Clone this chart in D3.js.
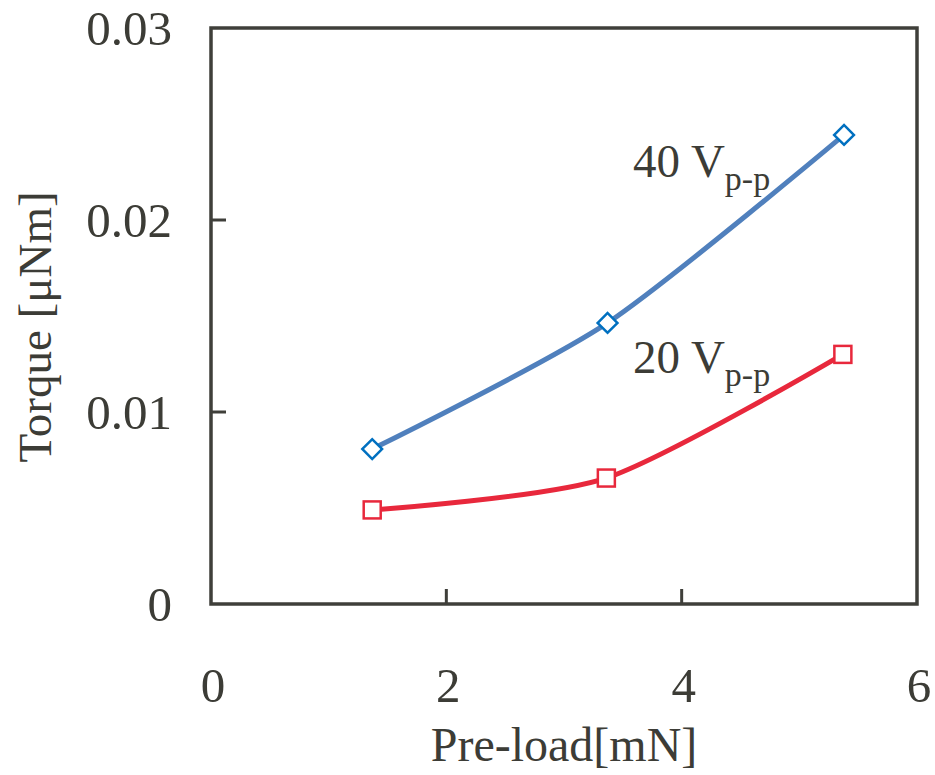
<!DOCTYPE html>
<html>
<head>
<meta charset="utf-8">
<script src="https://cdn.jsdelivr.net/npm/d3@7"></script>
<style>
  body { margin: 0; background: #fff; }
  text { font-family: "Liberation Serif", "Times New Roman", serif; fill: #3c3c36; }
</style>
</head>
<body>
<div id="chart"></div>
<script>
// data
const preload = [1.37, 3.37, 5.38];
const torque40 = [0.00807, 0.01464, 0.02443];
const preload20 = [1.37, 3.36, 5.37];
const torque20 = [0.0049, 0.00656, 0.0130];
const xTicks = [0, 2, 4, 6];
const yTicks = [0, 0.01, 0.02, 0.03];
const yTickLabels = ["0", "0.01", "0.02", "0.03"];

const svgWidth = 935;
const svgHeight = 775;
const margin = { top: 28, right: 18, bottom: 171, left: 211 };
const width = svgWidth - margin.left - margin.right;
const height = svgHeight - margin.top - margin.bottom;

const ink = "#3f3f3a";

const svg = d3.select("#chart")
  .append("svg")
  .attr("width", svgWidth)
  .attr("height", svgHeight);

const chartGroup = svg.append("g")
  .attr("transform", `translate(${margin.left}, ${margin.top})`);

const x = d3.scaleLinear().domain([0, 6]).range([0, width]);
const y = d3.scaleLinear().domain([0, 0.03]).range([height, 0]);

// inward ticks
chartGroup.selectAll(".xtick")
  .data(xTicks.slice(1, -1))
  .enter()
  .append("line")
  .attr("x1", d => x(d)).attr("x2", d => x(d))
  .attr("y1", height).attr("y2", height - 15)
  .attr("stroke", ink).attr("stroke-width", 3);

chartGroup.selectAll(".ytick")
  .data(yTicks.slice(1, -1))
  .enter()
  .append("line")
  .attr("x1", 0).attr("x2", 15)
  .attr("y1", d => y(d)).attr("y2", d => y(d))
  .attr("stroke", ink).attr("stroke-width", 3);

// frame
chartGroup.append("rect")
  .attr("x", 0).attr("y", 0)
  .attr("width", width).attr("height", height)
  .attr("fill", "none")
  .attr("stroke", ink)
  .attr("stroke-width", 3.5);

// tick labels
chartGroup.selectAll(".xlabel")
  .data(xTicks)
  .enter()
  .append("text")
  .attr("x", d => x(d) + 2)
  .attr("y", height + 98)
  .attr("text-anchor", "middle")
  .style("font-size", "49px")
  .text(d => d);

chartGroup.selectAll(".ylabel")
  .data(yTicks)
  .enter()
  .append("text")
  .attr("x", -39)
  .attr("y", d => y(d) + 17)
  .attr("text-anchor", "end")
  .style("font-size", "49px")
  .text((d, i) => yTickLabels[i]);

// axis titles
chartGroup.append("text")
  .attr("x", width / 2)
  .attr("y", height + 157)
  .attr("text-anchor", "middle")
  .style("font-size", "48px")
  .text("Pre-load[mN]");

chartGroup.append("text")
  .attr("transform", `translate(${-160}, ${327 - margin.top}) rotate(-90)`)
  .attr("text-anchor", "middle")
  .style("font-size", "47px")
  .text("Torque [μNm]");

// lines
const line = d3.line()
  .x(d => x(d[0]))
  .y(d => y(d[1]))
  .curve(d3.curveCardinal.tension(0.25));

const s40 = preload.map((p, i) => [p, torque40[i]]);
const s20 = preload20.map((p, i) => [p, torque20[i]]);

chartGroup.append("path")
  .datum(s40)
  .attr("d", line)
  .attr("fill", "none")
  .attr("stroke", "#5080bd")
  .attr("stroke-width", 5);

chartGroup.append("path")
  .datum(s20)
  .attr("d", line)
  .attr("fill", "none")
  .attr("stroke", "#e8283c")
  .attr("stroke-width", 5);

// markers
chartGroup.selectAll(".diamond")
  .data(s40)
  .enter()
  .append("rect")
  .attr("x", -7).attr("y", -7)
  .attr("width", 14).attr("height", 14)
  .attr("transform", d => `translate(${x(d[0])}, ${y(d[1])}) rotate(45)`)
  .attr("fill", "#fff")
  .attr("stroke", "#0070c0")
  .attr("stroke-width", 2.5);

chartGroup.selectAll(".square")
  .data(s20)
  .enter()
  .append("rect")
  .attr("x", d => x(d[0]) - 8.5)
  .attr("y", d => y(d[1]) - 8.5)
  .attr("width", 17).attr("height", 17)
  .attr("fill", "#fff")
  .attr("stroke", "#e8283c")
  .attr("stroke-width", 2.5);

// series labels
function seriesLabel(label, px, py) {
  const t = svg.append("text")
    .attr("x", px)
    .attr("y", py)
    .style("font-size", "47px");
  t.append("tspan").text(label + " V");
  t.append("tspan")
    .attr("dy", 13)
    .style("font-size", "34px")
    .text("p-p");
}
seriesLabel("40", 633, 177);
seriesLabel("20", 633, 373);
</script>
</body>
</html>
